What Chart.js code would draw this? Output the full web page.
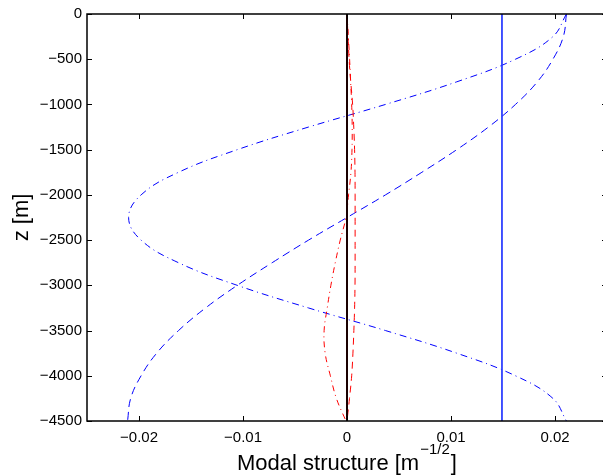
<!DOCTYPE html>
<html>
<head>
<meta charset="utf-8">
<script src="https://cdn.jsdelivr.net/npm/chart.js@4"></script>
<style>
  html, body { margin: 0; padding: 0; background: #fff; overflow: hidden; }
  #wrap { position: absolute; left: 0; top: 0; width: 612px; height: 476px; }
</style>
</head>
<body>
<div id="wrap"><canvas id="c"></canvas></div>
<script>
// ---- data ----
const depth = [0, -250, -500, -750, -1000, -1250, -1500, -1750, -2000, -2250,
               -2500, -2750, -3000, -3250, -3500, -3750, -4000, -4250, -4500];
const blueDashed = [0.0211, 0.0208, 0.0198, 0.0183, 0.0162, 0.0136, 0.01055, 0.0072, 0.0037, 0.0,
                    -0.0037, -0.0072, -0.01055, -0.0136, -0.0162, -0.0183, -0.0198, -0.0208, -0.0211];
const blueDashDot = [0.0211, 0.0198, 0.0162, 0.01055, 0.0037, -0.0037, -0.01055, -0.0162, -0.0198, -0.0210,
                     -0.0198, -0.0162, -0.01055, -0.0037, 0.0037, 0.01055, 0.0162, 0.0198, 0.0211];
const redDashed = [0.0, 0.0001, 0.0002, 0.00036, 0.00054, 0.00065, 0.00073, 0.00077, 0.00078, 0.00078,
                   0.00078, 0.00078, 0.00077, 0.00073, 0.00066, 0.00057, 0.00045, 0.00024, 0.0];
const redDashDot = [0.0, 0.00013, 0.00025, 0.00035, 0.00045, 0.0005, 0.00048, 0.00038, 0.00015, -0.0001,
                    -0.00065, -0.00113, -0.00155, -0.0019, -0.0022, -0.0021, -0.0016, -0.00102, -0.0001];
const barotropicValue = 0.0149;
const zeroValue = 0;
const xTicks = [-0.02, -0.01, 0, 0.01, 0.02];
const yTicks = [0, -500, -1000, -1500, -2000, -2500, -3000, -3500, -4000, -4500];
const xTitle = 'Modal structure [m';
const xTitleSup = '\u22121/2';
const yTitle = 'z [m]';

const pts = (xs) => xs.map((v, i) => ({ x: v, y: depth[i] }));
const vline = (v) => [{ x: v, y: depth[0] }, { x: v, y: depth[depth.length - 1] }];
const fmt = (v) => {
  const s = String(Math.round(v * 1000) / 1000);
  return s.replace('-', '\u2212');
};

const FONT = '"Liberation Sans", Arial, sans-serif';

const framePlugin = {
  id: 'frame',
  afterDatasetsDraw(chart) {
    const { ctx, chartArea: a, scales } = chart;
    ctx.save();
    ctx.strokeStyle = '#000';
    ctx.lineWidth = 1;
    const tl = 5;
    ctx.beginPath();
    xTicks.forEach(v => {
      const px = Math.round(scales.x.getPixelForValue(v)) + 0.5;
      ctx.moveTo(px, a.bottom); ctx.lineTo(px, a.bottom - tl);
      ctx.moveTo(px, a.top); ctx.lineTo(px, a.top + tl);
    });
    yTicks.forEach(v => {
      const py = Math.round(scales.y.getPixelForValue(v)) + 0.5;
      ctx.moveTo(a.left, py); ctx.lineTo(a.left + tl, py);
      ctx.moveTo(a.right, py); ctx.lineTo(a.right - tl, py);
    });
    ctx.stroke();
    ctx.lineWidth = 1.5;
    ctx.strokeRect(a.left, a.top, a.right - a.left, a.bottom - a.top);
    ctx.restore();
  },
  afterDraw(chart) {
    const { ctx, chartArea: a } = chart;
    ctx.save();
    ctx.fillStyle = '#000';
    const big = '22px ' + FONT, small = '15px ' + FONT;
    ctx.font = big;
    const w1 = ctx.measureText(xTitle).width;
    ctx.font = small;
    const w2 = ctx.measureText(xTitleSup).width;
    const x0 = 237;
    const base = 470;
    ctx.textBaseline = 'alphabetic';
    ctx.textAlign = 'left';
    ctx.font = big;
    ctx.fillText(xTitle, x0, base);
    ctx.font = small;
    ctx.fillText(xTitleSup, x0 + w1 + 1, base - 16);
    ctx.font = big;
    ctx.fillText(']', x0 + w1 + w2 + 2, base);
    ctx.translate(28, (a.top + a.bottom) / 2);
    ctx.rotate(-Math.PI / 2);
    ctx.textAlign = 'center';
    ctx.font = '22px ' + FONT;
    ctx.fillText(yTitle, 0, 0);
    ctx.restore();
  }
};

new Chart(document.getElementById('c'), {
  type: 'scatter',
  data: {
    datasets: [
      { data: vline(zeroValue), showLine: true, borderColor: '#1a0000', borderWidth: 2, pointRadius: 0, tension: 0 },
      { data: pts(redDashed), showLine: true, borderColor: '#ff0000', borderWidth: 1, borderDash: [7, 5], pointRadius: 0, tension: 0.4 },
      { data: pts(redDashDot), showLine: true, borderColor: '#ff0000', borderWidth: 1, borderDash: [6, 4, 1, 4], pointRadius: 0, tension: 0.4 },
      { data: vline(barotropicValue), showLine: true, borderColor: '#2a3cff', borderWidth: 1, pointRadius: 0, tension: 0 },
      { data: pts(blueDashed), showLine: true, borderColor: '#0000ff', borderWidth: 1, borderDash: [8, 5], pointRadius: 0, tension: 0.4 },
      { data: pts(blueDashDot), showLine: true, borderColor: '#0000ff', borderWidth: 1, borderDash: [7, 4, 1, 4], pointRadius: 0, tension: 0.4 }
    ]
  },
  options: {
    responsive: true,
    maintainAspectRatio: false,
    animation: false,
    events: [],
    layout: { padding: { left: 0, top: 13, right: 5, bottom: 0 } },
    plugins: { legend: { display: false }, tooltip: { enabled: false } },
    scales: {
      x: {
        type: 'linear', min: -0.025, max: 0.025,
        afterFit: (s) => { s.height = 55; },
        afterBuildTicks: (s) => { s.ticks = xTicks.map(v => ({ value: v })); },
        grid: { display: false, drawTicks: false },
        border: { display: false },
        ticks: { color: '#000', font: { family: FONT, size: 15 }, padding: 8, callback: fmt, maxRotation: 0 }
      },
      y: {
        type: 'linear', min: -4500, max: 0,
        afterFit: (s) => { s.width = 87; },
        afterBuildTicks: (s) => { s.ticks = yTicks.map(v => ({ value: v })); },
        grid: { display: false, drawTicks: false },
        border: { display: false },
        ticks: { color: '#000', font: { family: FONT, size: 15 }, padding: 5, callback: fmt }
      }
    }
  },
  plugins: [framePlugin]
});
</script>
</body>
</html>
